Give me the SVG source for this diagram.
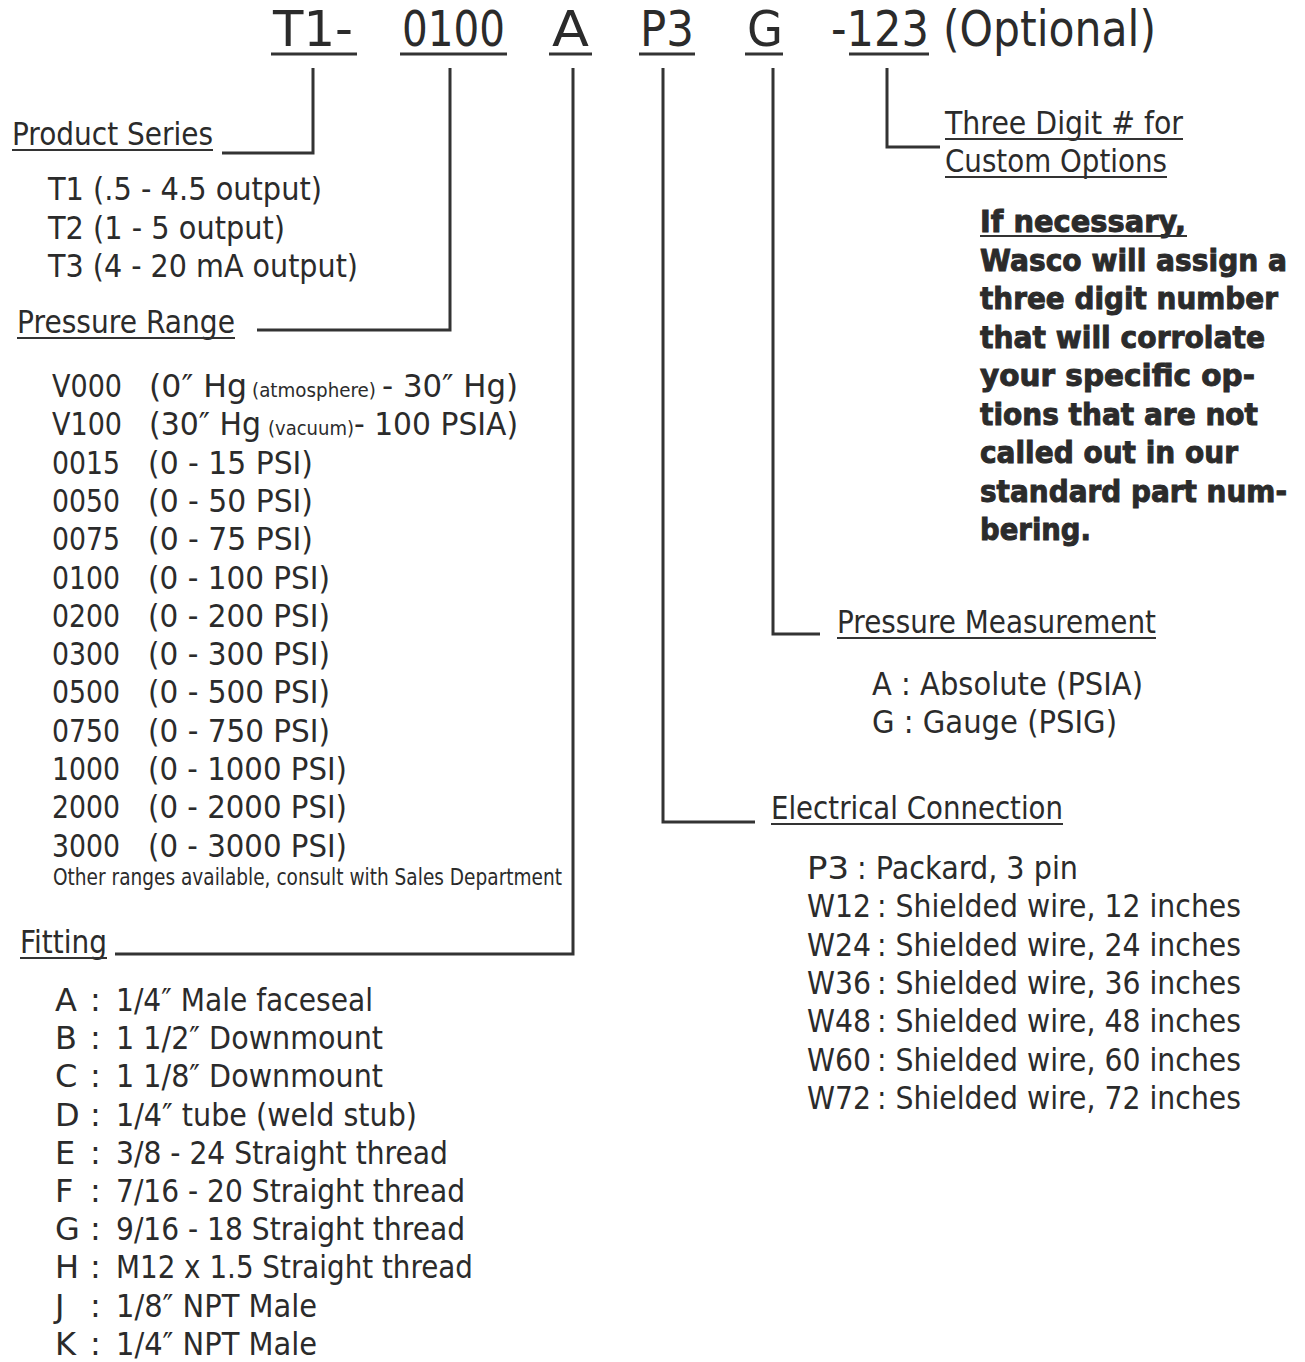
<svg xmlns="http://www.w3.org/2000/svg" width="1305" height="1362" viewBox="0 0 1305 1362">
<style>
text{font-family:"DejaVu Sans","Liberation Sans",sans-serif;fill:#2b2b2b}
.h{font-size:50px}
.b{font-size:32px}
.s{font-size:20px}
.o{font-size:23px}
.bold{font-size:31px;font-weight:bold;stroke:#2b2b2b;stroke-width:1px}
.ul{stroke:#333;stroke-width:2;fill:none}
.hul{stroke:#333;stroke-width:3;fill:none}
.c{stroke:#333;stroke-width:3;fill:none;stroke-linejoin:miter}
</style>
<rect width="1305" height="1362" fill="#fff"/>
<g id="header">
<text class="h" x="273" y="46" textLength="80" lengthAdjust="spacingAndGlyphs">T1-</text>
<text class="h" x="402" y="46" textLength="103" lengthAdjust="spacingAndGlyphs">0100</text>
<text class="h" x="552" y="46" textLength="37" lengthAdjust="spacingAndGlyphs">A</text>
<text class="h" x="640" y="46" textLength="54" lengthAdjust="spacingAndGlyphs">P3</text>
<text class="h" x="747" y="46" textLength="36" lengthAdjust="spacingAndGlyphs">G</text>
<text class="h" x="831" y="46" textLength="98" lengthAdjust="spacingAndGlyphs">-123</text>
<text class="h" x="943" y="46" textLength="213" lengthAdjust="spacingAndGlyphs">(Optional)</text>
<path class="hul" d="M271 54H357M400 54H507M549 54H592M639 54H695M745 54H783M849 54H929"/>
</g>
<g id="connectors">
<path class="c" d="M313 68V153H222"/>
<path class="c" d="M450 68V330H257"/>
<path class="c" d="M573 68V954H115"/>
<path class="c" d="M663 68V822H755"/>
<path class="c" d="M773 68V634H820"/>
<path class="c" d="M887 68V147H940"/>
</g>
<g id="product-series">
<text class="b" x="12" y="145" textLength="201" lengthAdjust="spacingAndGlyphs">Product Series</text>
<path class="ul" d="M12 150H213"/>
<text class="b" x="48" y="200" textLength="274" lengthAdjust="spacingAndGlyphs">T1 (.5 - 4.5 output)</text>
<text class="b" x="48" y="238.5" textLength="237" lengthAdjust="spacingAndGlyphs">T2 (1 - 5 output)</text>
<text class="b" x="48" y="277" textLength="310" lengthAdjust="spacingAndGlyphs">T3 (4 - 20 mA output)</text>
</g>
<g id="pressure-range">
<text class="b" x="17" y="333" textLength="218" lengthAdjust="spacingAndGlyphs">Pressure Range</text>
<path class="ul" d="M17 338H235"/>
<text class="b" x="52" y="397" textLength="70" lengthAdjust="spacingAndGlyphs">V000</text>
<text class="b" x="149" y="397" textLength="98" lengthAdjust="spacingAndGlyphs">(0″ Hg</text>
<text class="s" x="252" y="397" textLength="124" lengthAdjust="spacingAndGlyphs">(atmosphere)</text>
<text class="b" x="382" y="397" textLength="136" lengthAdjust="spacingAndGlyphs">- 30″ Hg)</text>
<text class="b" x="52" y="435.3" textLength="70" lengthAdjust="spacingAndGlyphs">V100</text>
<text class="b" x="149" y="435.3" textLength="112" lengthAdjust="spacingAndGlyphs">(30″ Hg</text>
<text class="s" x="268" y="435.3" textLength="86" lengthAdjust="spacingAndGlyphs">(vacuum)</text>
<text class="b" x="354" y="435.3" textLength="164" lengthAdjust="spacingAndGlyphs">- 100 PSIA)</text>
<text class="b" x="52" y="473.6" textLength="68" lengthAdjust="spacingAndGlyphs">0015</text>
<text class="b" x="148" y="473.6" textLength="165" lengthAdjust="spacingAndGlyphs">(0 - 15 PSI)</text>
<text class="b" x="52" y="511.9" textLength="68" lengthAdjust="spacingAndGlyphs">0050</text>
<text class="b" x="148" y="511.9" textLength="165" lengthAdjust="spacingAndGlyphs">(0 - 50 PSI)</text>
<text class="b" x="52" y="550.2" textLength="68" lengthAdjust="spacingAndGlyphs">0075</text>
<text class="b" x="148" y="550.2" textLength="165" lengthAdjust="spacingAndGlyphs">(0 - 75 PSI)</text>
<text class="b" x="52" y="588.5" textLength="68" lengthAdjust="spacingAndGlyphs">0100</text>
<text class="b" x="148" y="588.5" textLength="182" lengthAdjust="spacingAndGlyphs">(0 - 100 PSI)</text>
<text class="b" x="52" y="626.8" textLength="68" lengthAdjust="spacingAndGlyphs">0200</text>
<text class="b" x="148" y="626.8" textLength="182" lengthAdjust="spacingAndGlyphs">(0 - 200 PSI)</text>
<text class="b" x="52" y="665.1" textLength="68" lengthAdjust="spacingAndGlyphs">0300</text>
<text class="b" x="148" y="665.1" textLength="182" lengthAdjust="spacingAndGlyphs">(0 - 300 PSI)</text>
<text class="b" x="52" y="703.4" textLength="68" lengthAdjust="spacingAndGlyphs">0500</text>
<text class="b" x="148" y="703.4" textLength="182" lengthAdjust="spacingAndGlyphs">(0 - 500 PSI)</text>
<text class="b" x="52" y="741.7" textLength="68" lengthAdjust="spacingAndGlyphs">0750</text>
<text class="b" x="148" y="741.7" textLength="182" lengthAdjust="spacingAndGlyphs">(0 - 750 PSI)</text>
<text class="b" x="52" y="780" textLength="68" lengthAdjust="spacingAndGlyphs">1000</text>
<text class="b" x="148" y="780" textLength="199" lengthAdjust="spacingAndGlyphs">(0 - 1000 PSI)</text>
<text class="b" x="52" y="818.3" textLength="68" lengthAdjust="spacingAndGlyphs">2000</text>
<text class="b" x="148" y="818.3" textLength="199" lengthAdjust="spacingAndGlyphs">(0 - 2000 PSI)</text>
<text class="b" x="52" y="856.6" textLength="68" lengthAdjust="spacingAndGlyphs">3000</text>
<text class="b" x="148" y="856.6" textLength="199" lengthAdjust="spacingAndGlyphs">(0 - 3000 PSI)</text>
<text class="o" x="53" y="885" textLength="509" lengthAdjust="spacingAndGlyphs">Other ranges available, consult with Sales Department</text>
</g>
<g id="fitting">
<text class="b" x="20" y="953" textLength="87" lengthAdjust="spacingAndGlyphs">Fitting</text>
<path class="ul" d="M20 958H107"/>
<g>
<text class="b" x="55" y="1011">A</text><text class="b" x="90" y="1011">:</text><text class="b" x="116" y="1011" textLength="257" lengthAdjust="spacingAndGlyphs">1/4″ Male faceseal</text>
<text class="b" x="55" y="1049.2">B</text><text class="b" x="90" y="1049.2">:</text><text class="b" x="116" y="1049.2" textLength="267" lengthAdjust="spacingAndGlyphs">1 1/2″ Downmount</text>
<text class="b" x="55" y="1087.4">C</text><text class="b" x="90" y="1087.4">:</text><text class="b" x="116" y="1087.4" textLength="267" lengthAdjust="spacingAndGlyphs">1 1/8″ Downmount</text>
<text class="b" x="55" y="1125.6">D</text><text class="b" x="90" y="1125.6">:</text><text class="b" x="116" y="1125.6" textLength="301" lengthAdjust="spacingAndGlyphs">1/4″ tube (weld stub)</text>
<text class="b" x="55" y="1163.8">E</text><text class="b" x="90" y="1163.8">:</text><text class="b" x="116" y="1163.8" textLength="332" lengthAdjust="spacingAndGlyphs">3/8 - 24 Straight thread</text>
<text class="b" x="55" y="1202">F</text><text class="b" x="90" y="1202">:</text><text class="b" x="116" y="1202" textLength="349" lengthAdjust="spacingAndGlyphs">7/16 - 20 Straight thread</text>
<text class="b" x="55" y="1240.2">G</text><text class="b" x="90" y="1240.2">:</text><text class="b" x="116" y="1240.2" textLength="349" lengthAdjust="spacingAndGlyphs">9/16 - 18 Straight thread</text>
<text class="b" x="55" y="1278.4">H</text><text class="b" x="90" y="1278.4">:</text><text class="b" x="116" y="1278.4" textLength="357" lengthAdjust="spacingAndGlyphs">M12 x 1.5 Straight thread</text>
<text class="b" x="55" y="1316.6">J</text><text class="b" x="90" y="1316.6">:</text><text class="b" x="116" y="1316.6" textLength="201" lengthAdjust="spacingAndGlyphs">1/8″ NPT Male</text>
<text class="b" x="55" y="1354.8">K</text><text class="b" x="90" y="1354.8">:</text><text class="b" x="116" y="1354.8" textLength="201" lengthAdjust="spacingAndGlyphs">1/4″ NPT Male</text>
</g>
</g>
<g id="custom-options">
<text class="b" x="945" y="134" textLength="238" lengthAdjust="spacingAndGlyphs">Three Digit # for</text>
<path class="ul" d="M945 139H1183"/>
<text class="b" x="945" y="172" textLength="222" lengthAdjust="spacingAndGlyphs">Custom Options</text>
<path class="ul" d="M945 177H1167"/>
<text class="bold" x="980" y="232" textLength="206" lengthAdjust="spacingAndGlyphs">If necessary,</text>
<path class="ul" d="M980 236H1187"/>
<text class="bold" x="980" y="270.5" textLength="307" lengthAdjust="spacingAndGlyphs">Wasco will assign a</text>
<text class="bold" x="980" y="309" textLength="298" lengthAdjust="spacingAndGlyphs">three digit number</text>
<text class="bold" x="980" y="347.5" textLength="285" lengthAdjust="spacingAndGlyphs">that will corrolate</text>
<text class="bold" x="980" y="386" textLength="275" lengthAdjust="spacingAndGlyphs">your specific op-</text>
<text class="bold" x="980" y="424.5" textLength="278" lengthAdjust="spacingAndGlyphs">tions that are not</text>
<text class="bold" x="980" y="463" textLength="258" lengthAdjust="spacingAndGlyphs">called out in our</text>
<text class="bold" x="980" y="501.5" textLength="307" lengthAdjust="spacingAndGlyphs">standard part num-</text>
<text class="bold" x="980" y="540" textLength="111" lengthAdjust="spacingAndGlyphs">bering.</text>
</g>
<g id="pressure-measurement">
<text class="b" x="837" y="633" textLength="319" lengthAdjust="spacingAndGlyphs">Pressure Measurement</text>
<path class="ul" d="M837 638H1156"/>
<text class="b" x="872" y="695" textLength="271" lengthAdjust="spacingAndGlyphs">A : Absolute (PSIA)</text>
<text class="b" x="872" y="733.3" textLength="245" lengthAdjust="spacingAndGlyphs">G : Gauge (PSIG)</text>
</g>
<g id="electrical-connection">
<text class="b" x="771" y="819" textLength="292" lengthAdjust="spacingAndGlyphs">Electrical Connection</text>
<path class="ul" d="M771 824H1063"/>
<text class="b" x="807" y="879" textLength="42" lengthAdjust="spacingAndGlyphs">P3</text>
<text class="b" x="857" y="879" textLength="221" lengthAdjust="spacingAndGlyphs">: Packard, 3 pin</text>
<text class="b" x="807" y="917.3" textLength="64" lengthAdjust="spacingAndGlyphs">W12</text>
<text class="b" x="877" y="917.3" textLength="364" lengthAdjust="spacingAndGlyphs">: Shielded wire, 12 inches</text>
<text class="b" x="807" y="955.6" textLength="64" lengthAdjust="spacingAndGlyphs">W24</text>
<text class="b" x="877" y="955.6" textLength="364" lengthAdjust="spacingAndGlyphs">: Shielded wire, 24 inches</text>
<text class="b" x="807" y="993.9" textLength="64" lengthAdjust="spacingAndGlyphs">W36</text>
<text class="b" x="877" y="993.9" textLength="364" lengthAdjust="spacingAndGlyphs">: Shielded wire, 36 inches</text>
<text class="b" x="807" y="1032.2" textLength="64" lengthAdjust="spacingAndGlyphs">W48</text>
<text class="b" x="877" y="1032.2" textLength="364" lengthAdjust="spacingAndGlyphs">: Shielded wire, 48 inches</text>
<text class="b" x="807" y="1070.5" textLength="64" lengthAdjust="spacingAndGlyphs">W60</text>
<text class="b" x="877" y="1070.5" textLength="364" lengthAdjust="spacingAndGlyphs">: Shielded wire, 60 inches</text>
<text class="b" x="807" y="1108.8" textLength="64" lengthAdjust="spacingAndGlyphs">W72</text>
<text class="b" x="877" y="1108.8" textLength="364" lengthAdjust="spacingAndGlyphs">: Shielded wire, 72 inches</text>
</g>
</svg>
